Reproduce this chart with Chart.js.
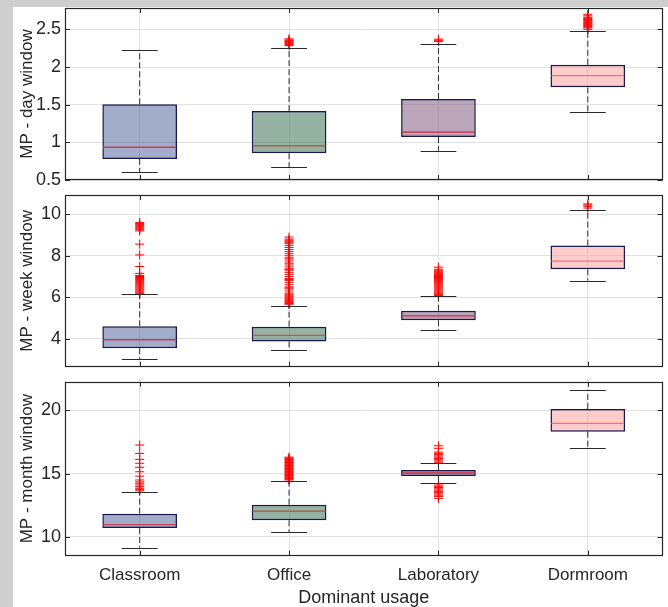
<!DOCTYPE html>
<html><head><meta charset="utf-8">
<script src="https://cdn.jsdelivr.net/npm/chart.js@4.4.1/dist/chart.umd.min.js"></script>
<style>
html,body{margin:0;padding:0;background:#cecece;width:668px;height:607px;overflow:hidden;position:relative}
#fig{position:absolute;left:13px;top:7px;width:655px;height:600px;background:#fff}
canvas{position:absolute;left:0}
</style></head>
<body>
<div id="fig"></div>
<canvas id="c1" style="top:0px"></canvas>
<canvas id="c2" style="top:188px"></canvas>
<canvas id="c3" style="top:375px"></canvas>
<script>
const categories = ['Classroom', 'Office', 'Laboratory', 'Dormroom'];
const xAxisTitle = 'Dominant usage';

// Day window
const dayLow  = [0.60, 0.67, 0.89, 1.40];
const dayQ1   = [0.78, 0.855, 1.07, 1.73];
const dayMed  = [0.935, 0.955, 1.135, 1.885];
const dayQ3   = [1.505, 1.415, 1.575, 2.03];
const dayHigh = [2.23, 2.255, 2.31, 2.475];
const dayOutliers = [
  [],
  [2.285, 2.30, 2.31, 2.32, 2.33, 2.34, 2.35, 2.36, 2.375],
  [2.34, 2.355, 2.37],
  [2.50, 2.52, 2.53, 2.54, 2.55, 2.56, 2.57, 2.58, 2.59, 2.60, 2.61, 2.62, 2.63, 2.64, 2.65, 2.66, 2.68, 2.70]
];
const dayTicks = [0.5, 1, 1.5, 2, 2.5];

// Week window
const weekLow  = [3.02, 3.45, 4.42, 6.80];
const weekQ1   = [3.54, 3.87, 4.89, 7.35];
const weekMed  = [3.95, 4.16, 5.10, 7.74];
const weekQ3   = [4.60, 4.58, 5.35, 8.49];
const weekHigh = [6.14, 5.58, 6.05, 10.23];
const weekOutliers = [
  [6.16, 6.2, 6.25, 6.3, 6.35, 6.4, 6.45, 6.5, 6.55, 6.6, 6.65, 6.7, 6.75, 6.8, 6.85, 6.9, 6.95, 7.0, 7.05, 7.15,
   7.48, 8.04, 8.56,
   9.2, 9.25, 9.3, 9.35, 9.4, 9.45, 9.5, 9.55, 9.6],
  [5.66, 5.7, 5.75, 5.8, 5.85, 5.9, 5.95, 6.0, 6.05, 6.1, 6.15, 6.2, 6.3, 6.4, 6.45, 6.5, 6.6, 6.7, 6.8, 6.85,
   6.9, 7.0, 7.1, 7.2, 7.3, 7.35, 7.4, 7.5, 7.6, 7.65, 7.75, 7.85, 7.9, 8.0, 8.1, 8.2, 8.3, 8.4, 8.5, 8.6,
   8.65, 8.7, 8.75, 8.8, 8.9],
  [6.08, 6.12, 6.16, 6.2, 6.25, 6.3, 6.35, 6.4, 6.45, 6.5, 6.55, 6.6, 6.65, 6.7, 6.75, 6.8, 6.85, 6.9, 6.95,
   7.0, 7.05, 7.1, 7.15, 7.2, 7.25, 7.3, 7.35, 7.45],
  [10.3, 10.38, 10.45, 10.5]
];
const weekTicks = [4, 6, 8, 10];

// Month window
const monthLow  = [9.16, 10.37, 14.29, 17.0];
const monthQ1   = [10.71, 11.32, 14.81, 18.31];
const monthMed  = [10.97, 12.03, 15.05, 18.97];
const monthQ3   = [11.84, 12.55, 15.29, 20.10];
const monthHigh = [13.53, 14.40, 15.82, 21.63];
const monthOutliers = [
  [13.65, 13.76, 13.85, 13.97, 14.1, 14.24, 14.35, 14.5, 14.8, 15.15, 15.5, 15.82, 16.13, 16.6, 17.26],
  [14.5, 14.56, 14.62, 14.68, 14.74, 14.8, 14.86, 14.92, 14.98, 15.04, 15.1, 15.16, 15.22, 15.28, 15.34,
   15.4, 15.46, 15.52, 15.58, 15.64, 15.7, 15.76, 15.82, 15.88, 15.94, 16.0, 16.06, 16.12, 16.18, 16.24, 16.3],
  [15.9, 16.0, 16.1, 16.2, 16.3, 16.4, 16.5, 16.6, 16.7, 17.0, 17.2,
   14.1, 14.0, 13.9, 13.8, 13.7, 13.6, 13.5, 13.4, 13.3, 13.2, 13.05],
  []
];
const monthTicks = [10, 15, 20];

const boxFill = ['rgba(72,92,150,0.5)', 'rgba(43,101,69,0.5)', 'rgba(119,77,117,0.5)', 'rgba(255,153,153,0.5)'];
const medianColor = ['#c0405a', '#b4604f', '#d02c46', '#f07474'];

const FONT = "'Liberation Sans', Arial, Helvetica, sans-serif";
const TXT = '#262626';

const boxExtras = {
  id: 'boxExtras',
  afterDatasetsDraw(chart, args, opts) {
    const {ctx, chartArea: a, scales: {x, y}} = chart;
    const st = opts.stats;
    const meta = chart.getDatasetMeta(0);
    ctx.save();
    ctx.beginPath();
    ctx.rect(a.left, a.top, a.right - a.left, a.bottom - a.top);
    ctx.clip();
    meta.data.forEach((bar, i) => {
      const cx = bar.x, hw = bar.width / 2;
      ctx.strokeStyle = medianColor[i];
      ctx.lineWidth = 1.3;
      ctx.beginPath();
      const ym = y.getPixelForValue(st.med[i]);
      ctx.moveTo(cx - hw + 1, ym); ctx.lineTo(cx + hw - 1, ym);
      ctx.stroke();
      ctx.strokeStyle = '#2a2a2a';
      ctx.lineWidth = 1;
      ctx.setLineDash([6, 3]);
      ctx.beginPath();
      ctx.moveTo(cx, y.getPixelForValue(st.q3[i])); ctx.lineTo(cx, y.getPixelForValue(st.high[i]));
      ctx.moveTo(cx, y.getPixelForValue(st.q1[i])); ctx.lineTo(cx, y.getPixelForValue(st.low[i]));
      ctx.stroke();
      ctx.setLineDash([]);
      const cw = hw * 0.48;
      ctx.beginPath();
      [st.high[i], st.low[i]].forEach(v => {
        const yy = Math.round(y.getPixelForValue(v)) + 0.5;
        ctx.moveTo(cx - cw, yy); ctx.lineTo(cx + cw, yy);
      });
      ctx.stroke();
    });
    ctx.restore();
  },
  afterDraw(chart) {
    const {ctx, chartArea: a, scales: {x, y}} = chart;
    ctx.save();
    ctx.strokeStyle = TXT;
    ctx.lineWidth = 1;
    ctx.beginPath();
    y.ticks.forEach(t => {
      const py = Math.round(y.getPixelForValue(t.value)) + 0.5;
      ctx.moveTo(a.left, py); ctx.lineTo(a.left + 5, py);
      ctx.moveTo(a.right, py); ctx.lineTo(a.right - 5, py);
    });
    x.ticks.forEach((t, i) => {
      const px = Math.round(x.getPixelForValue(i)) + 0.5;
      ctx.moveTo(px, a.bottom); ctx.lineTo(px, a.bottom - 5);
      ctx.moveTo(px, a.top); ctx.lineTo(px, a.top + 5);
    });
    ctx.stroke();
    ctx.lineWidth = 1.2;
    ctx.strokeRect(Math.round(a.left) + 0.5, Math.round(a.top) + 0.5,
                   Math.round(a.right - a.left) - 1, Math.round(a.bottom - a.top) - 1);
    ctx.restore();
  }
};

function makePanel(id, h, padTop, padBottom, yTitle, yMin, yMax, step, low, q1, med, q3, high, outliers, showX, xAxisH) {
  const cv = document.getElementById(id);
  cv.width = 668; cv.height = h;
  cv.style.width = '668px'; cv.style.height = h + 'px';
  const pts = [];
  outliers.forEach((arr, i) => arr.forEach(v => pts.push({x: categories[i], y: v})));
  return new Chart(cv, {
    type: 'bar',
    data: {
      labels: categories,
      datasets: [
        {
          type: 'bar',
          data: categories.map((c, i) => [q1[i], q3[i]]),
          backgroundColor: boxFill,
          borderColor: '#1a1a4e',
          borderWidth: 1.5,
          borderSkipped: false,
          categoryPercentage: 1,
          barPercentage: 0.5,
          order: 2
        },
        {
          type: 'scatter',
          data: pts,
          pointStyle: 'cross',
          radius: 4.5,
          borderColor: '#ff0000',
          backgroundColor: '#ff0000',
          borderWidth: 1,
          order: 1
        }
      ]
    },
    options: {
      responsive: false,
      animation: false,
      devicePixelRatio: 1,
      layout: {padding: {left: 0, right: 4, top: padTop, bottom: padBottom}},
      plugins: {
        legend: {display: false},
        tooltip: {enabled: false},
        boxExtras: {stats: {low, q1, med, q3, high}}
      },
      scales: {
        x: {
          type: 'category',
          offset: true,
          grid: {display: true, offset: false, color: '#e2e2e2', drawTicks: false},
          border: {display: false},
          ticks: {display: showX, color: TXT, font: {family: FONT, size: 17}, padding: 9, maxRotation: 0, autoSkip: false},
          title: {display: showX, text: xAxisTitle, color: TXT, font: {family: FONT, size: 18}, padding: {top: 0, bottom: 0}},
          afterFit: s => { s.height = xAxisH; s.paddingLeft = 0; s.paddingRight = 0; s.paddingTop = 0; s.paddingBottom = 0; }
        },
        y: {
          type: 'linear',
          min: yMin, max: yMax,
          grid: {color: '#e2e2e2', drawTicks: false},
          border: {display: false},
          ticks: {stepSize: step, includeBounds: false, color: TXT, padding: 4,
                  font: {family: FONT, size: 18}, callback: v => String(v)},
          title: {display: true, text: yTitle, color: TXT, font: {family: FONT, size: 17}, padding: {top: 17, bottom: 0}},
          afterFit: s => { s.width = 65; s.paddingTop = 0; s.paddingBottom = 0; s.paddingLeft = 0; s.paddingRight = 0; }
        }
      }
    },
    plugins: [boxExtras]
  });
}

makePanel('c1', 188, 8, 8, 'MP - day window', 0.5, 2.784, 0.5,
  dayLow, dayQ1, dayMed, dayQ3, dayHigh, dayOutliers, false, 0);
makePanel('c2', 187, 7, 8.3, 'MP - week window', 2.65, 10.93, 2,
  weekLow, weekQ1, weekMed, weekQ3, weekHigh, weekOutliers, false, 0);
makePanel('c3', 234, 6.7, 0, 'MP - month window', 8.52, 22.26, 5,
  monthLow, monthQ1, monthMed, monthQ3, monthHigh, monthOutliers, true, 53.3);
</script>
</body></html>
